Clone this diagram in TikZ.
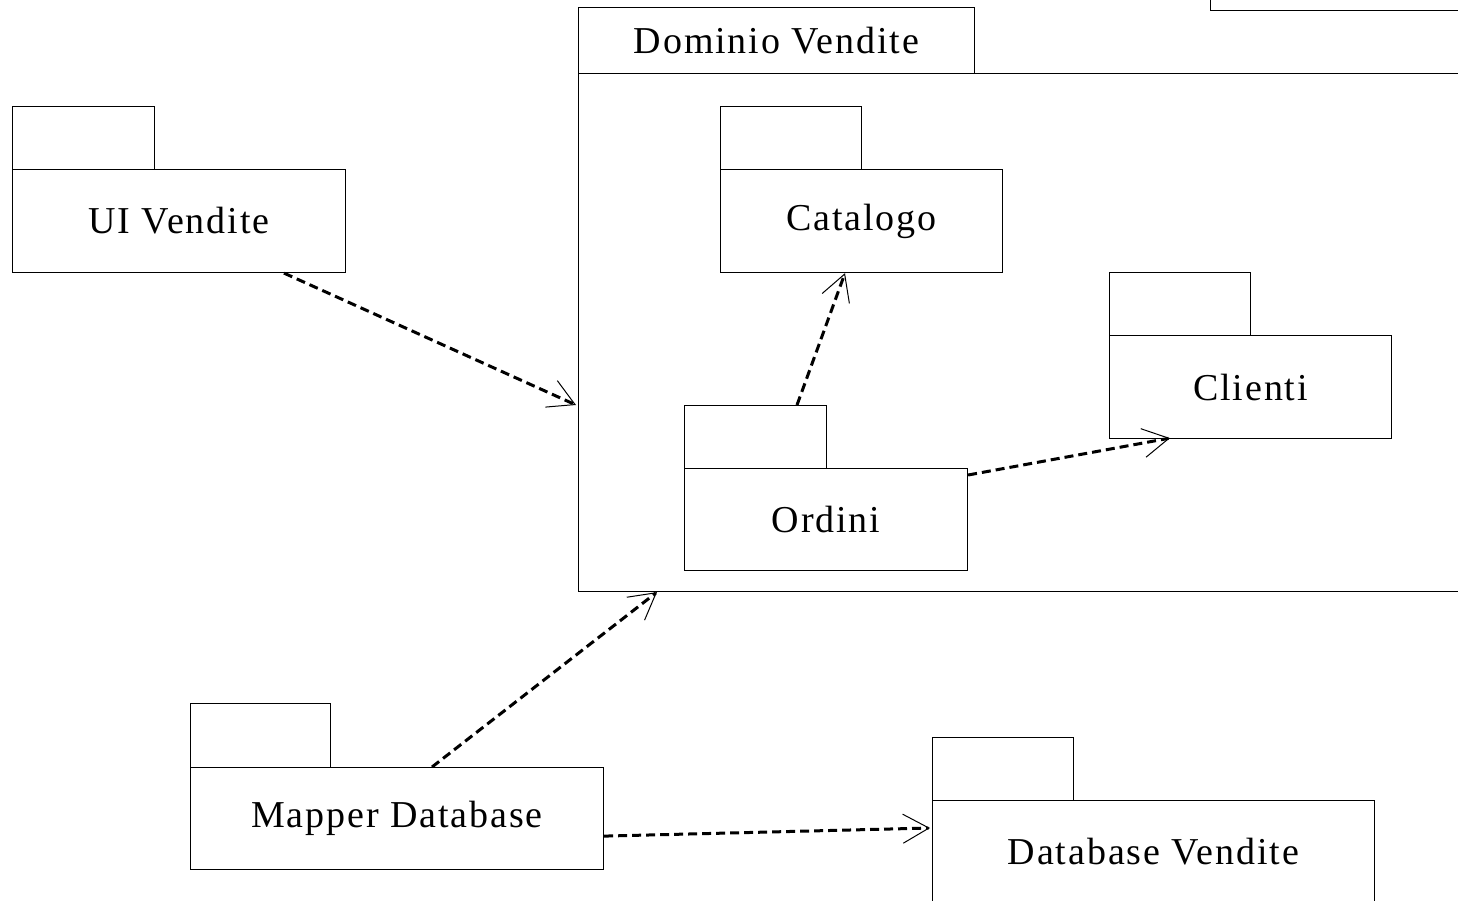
\documentclass[tikz,border=0pt]{standalone}
\usepackage{fontspec}
\setmainfont{Liberation Serif}[LetterSpace=5]
\usetikzlibrary{arrows.meta,calc}
\begin{document}
\begin{tikzpicture}[x=1pt,y=-1pt,
  box/.style={draw,line width=1.1pt,anchor=north west,inner sep=0pt,font=\fontsize{38}{40}\selectfont},
  dep/.style={line width=3pt,dash pattern=on 9pt off 5pt,
    -{Straight Barb[length=26pt,width=29pt,line width=1pt]}}]
\clip (0,0) rectangle (1458,900);
\useasboundingbox (0,0) rectangle (1458,900);
% top-right partial box
\node[box,minimum width=300pt,minimum height=30pt] (corner) at (1210,-20) {};
% Dominio Vendite
\node[box,minimum width=396pt,minimum height=66pt] (domtab) at (578,7) {};
\node at (domtab.center) [font=\fontsize{38}{40}\selectfont] (domlbl) {Dominio Vendite};
\node[box,minimum width=920pt,minimum height=518pt] (dom) at (578,73) {};
% UI Vendite
\node[box,minimum width=142pt,minimum height=63pt] (uitab) at (12,106) {};
\node[box,minimum width=333pt,minimum height=103pt] (ui) at (12,169) {UI Vendite};
% Catalogo
\node[box,minimum width=141pt,minimum height=63pt] (cattab) at (720,106) {};
\node[box,minimum width=282pt,minimum height=103pt] (cat) at (720,169) {Catalogo};
% Clienti
\node[box,minimum width=141pt,minimum height=63pt] (clitab) at (1109,272) {};
\node[box,minimum width=282pt,minimum height=103pt] (cli) at (1109,335) {Clienti};
% Ordini
\node[box,minimum width=142pt,minimum height=63pt] (ordtab) at (684,405) {};
\node[box,minimum width=283pt,minimum height=102pt] (ord) at (684,468) {Ordini};
% Mapper Database
\node[box,minimum width=140pt,minimum height=64pt] (maptab) at (190,703) {};
\node[box,minimum width=413pt,minimum height=102pt] (map) at (190,767) {Mapper Database};
% Database Vendite
\node[box,minimum width=141pt,minimum height=63pt] (dbtab) at (932,737) {};
\node[box,minimum width=442pt,minimum height=102pt] (db) at (932,800) {Database Vendite};
% dependencies
\draw[dep] ($(ui.south west)+(272,0)$) -- ($(dom.north west)+(-2,332)$);
\draw[dep] ($(ordtab.north west)+(113,0)$) -- ($(cat.south west)+(125,0)$);
\draw[dep] ($(ord.north east)+(0,7)$) -- ($(cli.south west)+(61,-1)$);
\draw[dep] ($(map.north west)+(242,0)$) -- ($(dom.south west)+(79,0)$);
\draw[dep] ($(map.south east)+(0,-34)$) -- ($(db.north west)+(-2,28)$);
\end{tikzpicture}
\end{document}
